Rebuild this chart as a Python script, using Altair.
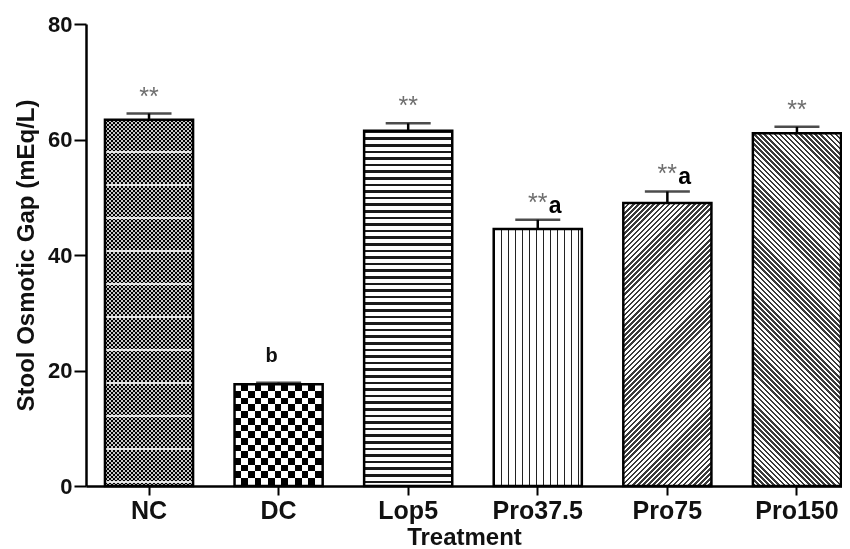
import math
import altair as alt
import pandas as pd

# ---- data ----
treatments = ["NC", "DC", "Lop5", "Pro37.5", "Pro75", "Pro150"]
means = [63.4, 17.6, 61.5, 44.5, 49.0, 61.1]
sems = [1.1, 0.3, 1.3, 1.6, 2.0, 1.1]
stars = ["**", "", "**", "**", "**", "**"]
letters = ["", "b", "", "a", "a", ""]

df = pd.DataFrame({
    "treatment": treatments,
    "mean": means,
    "sem": sems,
    "stars": stars,
    "letter": letters,
})
df["upper"] = df["mean"] + df["sem"]

# ---- layout / style ----
W, H = 756, 462
YMAX = 80
PX = H / YMAX
P_INNER, P_OUTER, ALIGN = 0.32, 0.077, 0.95
STEP = W / (len(treatments) - P_INNER + 2 * P_OUTER)
BW = STEP * (1 - P_INNER)
FONT = "Liberation Sans"


def stripe_stops(n, dark, light, frac):
    stops = []
    for i in range(int(math.ceil(n))):
        a = min(i / n, 1.0)
        b = min((i + frac) / n, 1.0)
        c = min((i + 1) / n, 1.0)
        stops += [alt.GradientStop(offset=a, color=dark),
                  alt.GradientStop(offset=b, color=dark),
                  alt.GradientStop(offset=b, color=light),
                  alt.GradientStop(offset=c, color=light)]
    return stops


def grad_h(h, period, dark, light, frac):
    return alt.LinearGradient(gradient="linear", x1=0, y1=0, x2=0, y2=1,
                              stops=stripe_stops(h / period, dark, light, frac))


def grad_v(w, period, dark, light, frac):
    return alt.LinearGradient(gradient="linear", x1=0, y1=0, x2=1, y2=0,
                              stops=stripe_stops(w / period, dark, light, frac))


def grad_diag(w, h, period, dark, light, frac, forward=True):
    k = (w + h) / (w * w + h * h)
    n = (w + h) / (math.sqrt(2) * period)
    if forward:
        return alt.LinearGradient(gradient="linear", x1=0, y1=0, x2=w * k, y2=h * k,
                                  stops=stripe_stops(n, dark, light, frac))
    return alt.LinearGradient(gradient="linear", x1=1, y1=0, x2=1 - w * k, y2=h * k,
                              stops=stripe_stops(n, dark, light, frac))


xenc = alt.X("treatment:N", sort=treatments,
             scale=alt.Scale(paddingInner=P_INNER, paddingOuter=P_OUTER, align=ALIGN),
             axis=alt.Axis(title="Treatment", labelAngle=0, labelFont=FONT,
                           labelFontSize=25, labelFontWeight="bold", labelColor="#111",
                           labelPadding=3, tickSize=9, tickWidth=2, tickColor="#000",
                           domainWidth=2.5, domainColor="#000", titleFont=FONT,
                           titleFontSize=24, titleFontWeight="bold", titleColor="#111",
                           titlePadding=2))
yenc = alt.Y("mean:Q", scale=alt.Scale(domain=[0, YMAX], nice=False),
             axis=alt.Axis(title="Stool Osmotic Gap (mEq/L)", values=[0, 20, 40, 60, 80],
                           grid=False, labelFont=FONT, labelFontSize=22,
                           labelFontWeight="bold", labelColor="#111", labelPadding=2,
                           tickSize=12, tickWidth=2, tickColor="#000", domainWidth=2.5,
                           domainColor="#000", titleFont=FONT, titleFontSize=24,
                           titleFontWeight="bold", titleColor="#111", titlePadding=9))

base = alt.Chart(df)


def bar_layer(name, fill, **kw):
    return base.transform_filter(alt.datum.treatment == name).mark_bar(
        fill=fill, strokeWidth=0, **kw).encode(x=xenc, y=yenc)


hgt = {t: m * PX for t, m in zip(treatments, means)}

layers = []
# NC: fine dark checker with light horizontal bands
layers.append(bar_layer("NC", grad_h(hgt["NC"], 4.0, "#000000", "#ffffff", 0.5)))
layers.append(bar_layer("NC", grad_v(BW, 4.0, "#ffffff", "#000000", 0.5), blend="difference"))
layers.append(bar_layer("NC", "rgba(0,0,0,0.22)"))
layers.append(bar_layer("NC", grad_h(hgt["NC"], 33.0, "rgba(255,255,255,0)", "rgba(240,240,240,0.9)", 0.93)))
# DC: coarse checkerboard
layers.append(bar_layer("DC", grad_h(hgt["DC"], 13.4, "#000000", "#ffffff", 0.5)))
layers.append(bar_layer("DC", grad_v(BW, 13.4, "#ffffff", "#000000", 0.5), blend="difference"))
# Lop5: horizontal lines
layers.append(bar_layer("Lop5", grad_h(hgt["Lop5"], 6.6, "#1a1a1a", "#ffffff", 0.4)))
# Pro37.5: vertical lines
layers.append(bar_layer("Pro37.5", grad_v(BW, 7.0, "#222222", "#ffffff", 0.22)))
# Pro75: forward diagonal lines
layers.append(bar_layer("Pro75", grad_diag(BW, hgt["Pro75"], 3.6, "#3a3a3a", "#ffffff", 0.5, True)))
# Pro150: backward diagonal lines
layers.append(bar_layer("Pro150", grad_diag(BW, hgt["Pro150"], 3.6, "#3a3a3a", "#ffffff", 0.5, False)))

outline = base.mark_bar(fill="transparent", stroke="#000", strokeWidth=2.5).encode(x=xenc, y=yenc)

err = base.mark_rule(color="#000", strokeWidth=2.5).encode(
    x=xenc, y=alt.Y("mean:Q"), y2="upper:Q")
cap = base.mark_tick(color="#000", thickness=2.5, size=45).encode(
    x=xenc, y=alt.Y("upper:Q"))

star_text = base.transform_filter(alt.datum.stars != "").mark_text(
    font=FONT, fontSize=25, color="#6e6e6e", baseline="alphabetic", dy=-9).encode(
    x=xenc, y=alt.Y("upper:Q"), text="stars:N")

a_text = base.transform_filter(alt.datum.letter == "a").mark_text(
    font=FONT, fontSize=23, fontWeight="bold", color="#000", align="left",
    baseline="alphabetic", dx=11, dy=-7).encode(
    x=xenc, y=alt.Y("upper:Q"), text="letter:N")

b_text = base.transform_filter(alt.datum.letter == "b").mark_text(
    font=FONT, fontSize=20, fontWeight="bold", color="#111", align="center",
    baseline="alphabetic", dx=-7, dy=-21).encode(
    x=xenc, y=alt.Y("upper:Q"), text="letter:N")

chart = alt.layer(*layers, outline, err, cap, star_text, a_text, b_text).properties(
    width=W, height=H,
    autosize=alt.AutoSizeParams(type="none"),
    padding={"left": 78, "top": 16, "right": 0, "bottom": 63},
    background="white",
).configure_view(stroke=None)

chart.save("out.html", embed_options={"renderer": "svg", "actions": False})
